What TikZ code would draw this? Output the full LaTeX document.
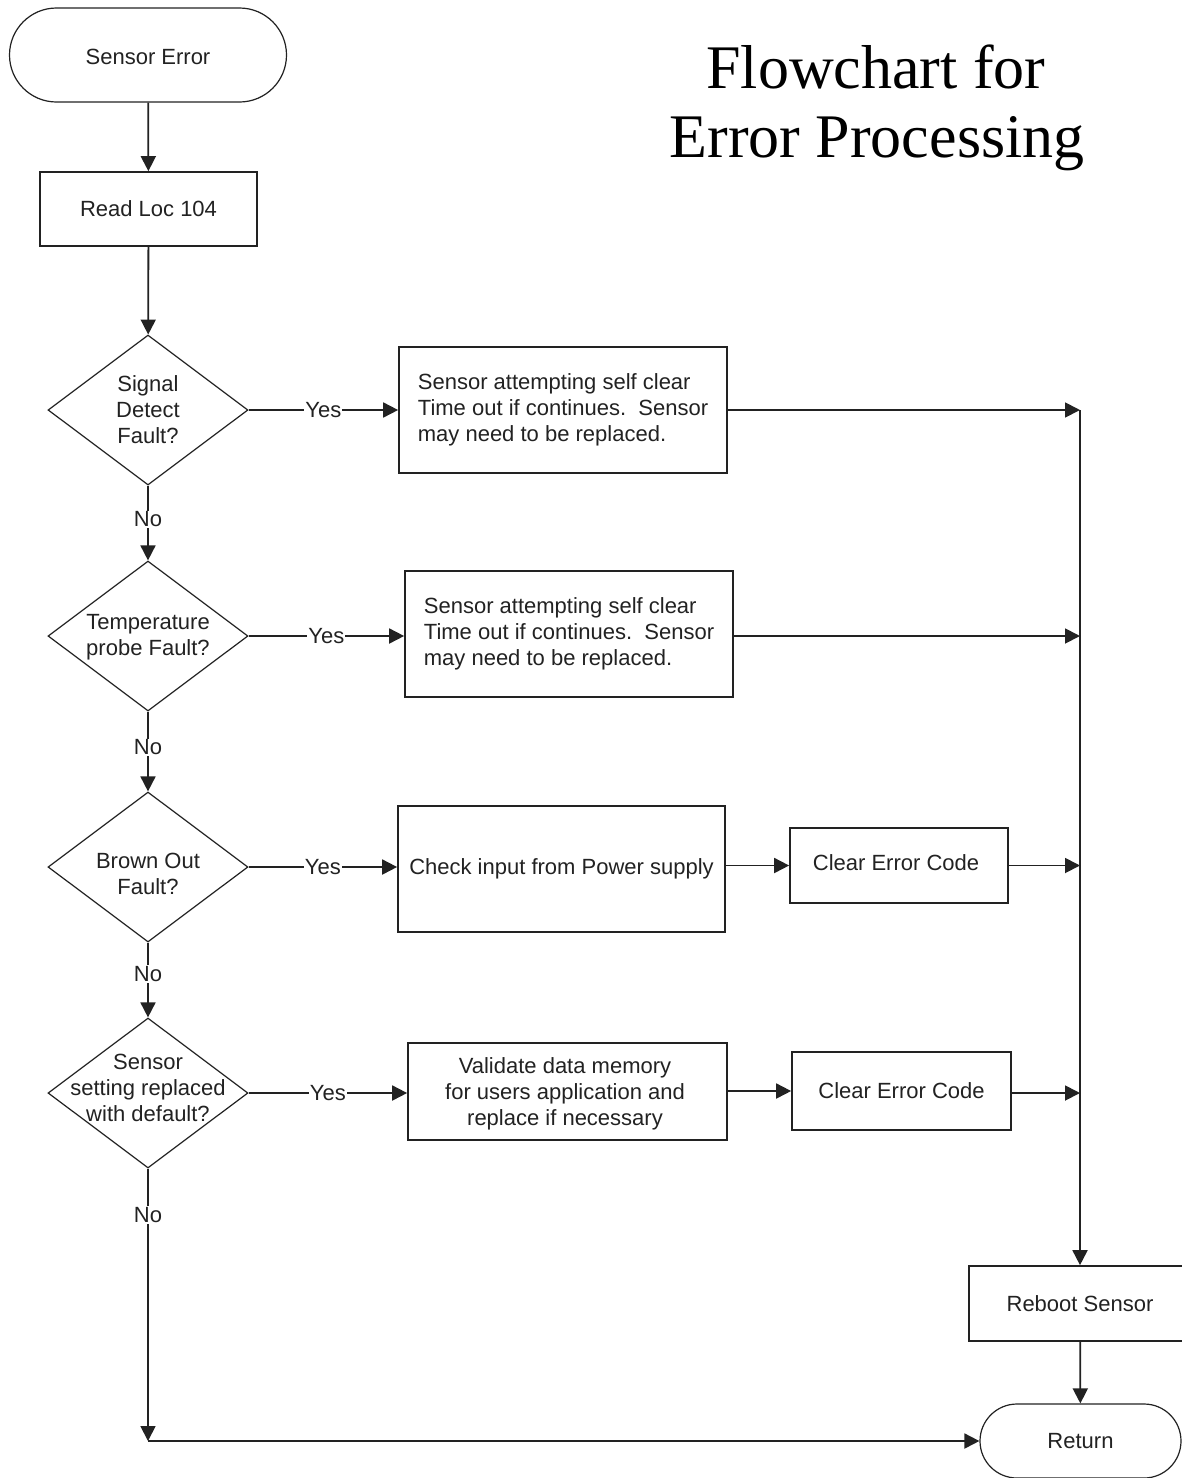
\documentclass[tikz,border=0pt]{standalone}
\usepackage{fontspec}
\setmainfont{Liberation Sans}
\newfontfamily\titlefont{Liberation Serif}
\usetikzlibrary{shapes.geometric,shapes.misc,arrows.meta}
\definecolor{ink}{HTML}{222222}
\begin{document}
\begin{tikzpicture}[x=1pt,y=-1pt,
  txt/.style={font=\fontsize{22}{26}\selectfont, text=ink},
  term/.style={txt, rounded rectangle, draw=ink, line width=1.2pt,
    minimum width=#1, inner sep=0},
  proc/.style={txt, rectangle, draw=ink, line width=1.7pt, inner sep=0},
  decision/.style={diamond, draw=ink, line width=1.2pt, inner sep=0,
    minimum width=200, minimum height=150},
  dtext/.style={txt, align=center, inner sep=0},
  lbl/.style={txt, fill=white, inner sep=1pt},
  arr/.style={draw=ink, line width=1.8pt, -{Triangle[length=15pt,width=15pt]}},
  ttl/.style={font=\titlefont\fontsize{62}{69}\selectfont, text=black, anchor=base}]
\useasboundingbox (0,0) rectangle (1182,1478);
\fill[white] (0,0) rectangle (1182,1478);

% title
\node[ttl] (title1) at (876,88) {Flowchart for};
\node[ttl] (title2) at (877,157) {Error Processing};

% main column
\node[term=277, minimum height=94] (start) at (148,55) {};
\node[txt] (startt) at (148,57) {Sensor Error};
\node[proc, minimum width=217, minimum height=74] (read) at (148.5,209) {Read Loc 104};

\node[decision] (d1) at (148,410) {};
\node[dtext] (d1t) at (d1) {Signal\\Detect\\Fault?};
\node[decision] (d2) at (148,636) {};
\node[dtext] (d2t) at ([yshift=-1pt]d2) {Temperature\\probe Fault?};
\node[decision] (d3) at (148,867) {};
\node[dtext] (d3t) at ([yshift=-7pt]d3) {Brown Out\\Fault?};
\node[decision] (d4) at (148,1093) {};
\node[dtext] (d4t) at ([yshift=5pt]d4) {Sensor\\setting replaced\\with default?};

% action boxes
\node[proc, minimum width=328, minimum height=126, align=left] (a1) at (563,410)
  {Sensor attempting self clear\\Time out if continues.\ \ Sensor\\may need to be replaced.};
\node[proc, minimum width=328, minimum height=126, align=left] (a2) at (569,634)
  {Sensor attempting self clear\\Time out if continues.\ \ Sensor\\may need to be replaced.};
\node[proc, minimum width=327, minimum height=126] (a3) at (561.5,869)
  {Check input from Power supply};
\node[proc, minimum width=218, minimum height=75] (c1) at (899,865.5) {};
\node[txt] (c1t) at (896,863) {Clear Error Code};
\node[proc, minimum width=319, minimum height=97] (a4) at (567.5,1091.5) {};
\node[txt, align=center] (a4t) at (565,1094) {Validate data memory\\for users application and\\replace if necessary};
\node[proc, minimum width=219, minimum height=78] (c2) at (901.5,1091) {Clear Error Code};

% ending
\node[proc, minimum width=222, minimum height=75] (reboot) at (1080,1303.5) {Reboot Sensor};
\node[term=201, minimum height=74] (ret) at (1080.5,1441) {Return};

% junction points on the collecting line
\coordinate (j1) at (1080,410);
\coordinate (j2) at (1080,636);
\coordinate (j3) at (1080,865.5);
\coordinate (j4) at (1080,1093);
\coordinate (jb) at (148,1441);

% connectors
\draw[arr] (start) -- (read);
\draw[arr] (read) -- (d1);
\draw[arr] (d1) -- node[lbl, pos=0.45] (n1) {No} (d2);
\draw[arr] (d2) -- node[lbl, pos=0.45] (n2) {No} (d3);
\draw[arr] (d3) -- node[lbl, pos=0.42] (n3) {No} (d4);
\draw[arr] (d4) -- node[lbl, pos=0.17] (n4) {No} (jb);
\draw[arr] (jb) -- (ret);

\draw[arr] (d1) -- node[lbl] (y1) {Yes} (a1);
\draw[arr] (d2.east) -- node[lbl] (y2) {Yes} (a2.west |- d2.east);
\draw[arr] (d3) -- node[lbl] (y3) {Yes} (a3.west |- d3.east);
\draw[arr] (d4) -- node[lbl] (y4) {Yes} (a4.west |- d4.east);

\draw[arr] (a1) -- (j1);
\draw[arr] (a2.east |- j2) -- (j2);
\draw[arr] (a3.east |- c1.west) -- (c1);
\draw[arr] (c1) -- (j3);
\draw[arr] (a4.east |- c2.west) -- (c2);
\draw[arr] (c2.east |- j4) -- (j4);

\draw[arr] (j1) -- (reboot);
\draw[arr] (reboot) -- (ret);
\end{tikzpicture}
\end{document}
